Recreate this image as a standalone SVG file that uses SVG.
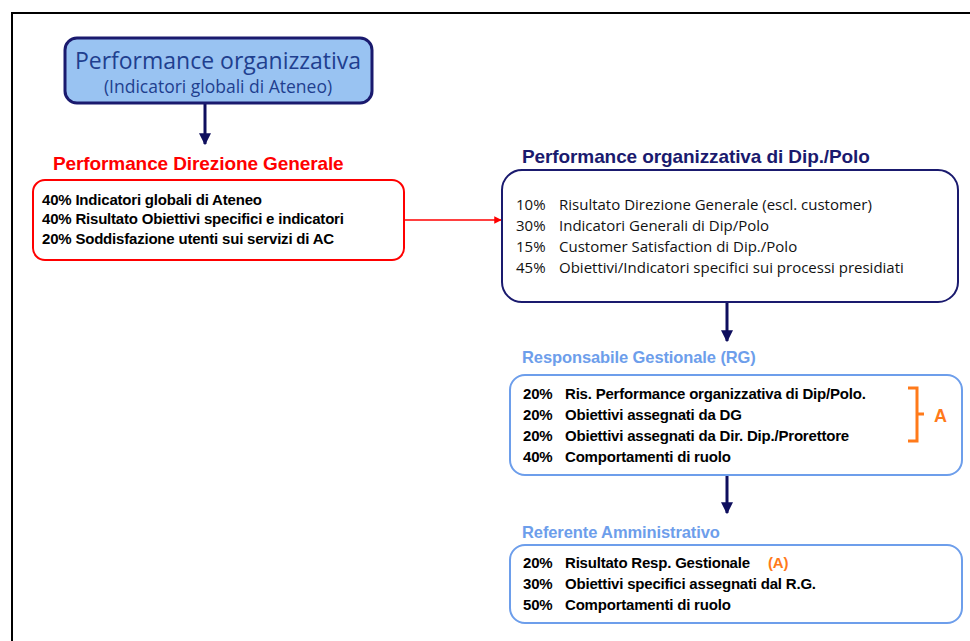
<svg xmlns="http://www.w3.org/2000/svg" width="970" height="641" viewBox="0 0 970 641">
<style>
.b{font-family:"Liberation Sans",Arial,sans-serif;font-weight:bold;font-size:15px;fill:#000;letter-spacing:-0.2px}
.r{font-family:"Open Sans","Liberation Sans",sans-serif;font-size:15px;fill:#111}
.h{font-family:"Liberation Sans",Arial,sans-serif;font-weight:bold;font-size:19px;letter-spacing:-0.1px}
.hl{font-family:"Liberation Sans",Arial,sans-serif;font-weight:bold;font-size:16.5px;fill:#6d9eeb;letter-spacing:-0.1px}
.o{fill:#ff7a1a}
</style>
<defs>
<marker id="an" viewBox="0 0 10 10" refX="9" refY="5" markerWidth="4" markerHeight="4" orient="auto"><path d="M0,0L10,5L0,10z" fill="#0f0f5e"/></marker>
<marker id="ar" viewBox="0 0 10 10" refX="9" refY="5" markerWidth="5" markerHeight="5" orient="auto"><path d="M0,0L10,5L0,10z" fill="#ff0000"/></marker>
</defs>
<rect width="970" height="641" fill="#fff"/>
<path d="M12,641V13H970" fill="none" stroke="#000" stroke-width="2"/>

<g id="connectors" fill="none">
<line x1="205" y1="104" x2="205" y2="144" stroke="#0f0f5e" stroke-width="3" marker-end="url(#an)"/>
<line x1="405" y1="220" x2="501" y2="220" stroke="#ff0000" stroke-width="1.5" marker-end="url(#ar)"/>
<line x1="727" y1="303" x2="727" y2="341" stroke="#0f0f5e" stroke-width="3" marker-end="url(#an)"/>
<line x1="727" y1="476" x2="727" y2="513" stroke="#0f0f5e" stroke-width="3" marker-end="url(#an)"/>
</g>

<g id="perf-org">
<rect x="65" y="38" width="307" height="65" rx="12" fill="#99c3f2" stroke="#1a1a6e" stroke-width="3"/>
<text x="218" y="69" text-anchor="middle" font-family="Open Sans,Liberation Sans,sans-serif" font-size="23" fill="#1f3f8f">Performance organizzativa</text>
<text x="218" y="93" text-anchor="middle" font-family="Open Sans,Liberation Sans,sans-serif" font-size="17.5" fill="#1f3f8f">(Indicatori globali di Ateneo)</text>
</g>

<g id="perf-dg">
<text x="53" y="170" class="h" fill="#ff0000">Performance Direzione Generale</text>
<rect x="33" y="180" width="371" height="80" rx="12" fill="#fff" stroke="#ff0000" stroke-width="2"/>
<text x="42" y="205" class="b">40% Indicatori globali di Ateneo</text>
<text x="42" y="224" class="b">40% Risultato Obiettivi specifici e indicatori</text>
<text x="42" y="244" class="b">20% Soddisfazione utenti sui servizi di AC</text>
</g>

<g id="perf-dip">
<text x="522" y="163" class="h" fill="#1a1a6e">Performance organizzativa di Dip./Polo</text>
<rect x="502" y="170" width="456" height="132" rx="20" fill="#fff" stroke="#1a1a6e" stroke-width="2"/>
<text x="516" y="210" class="r">10%</text><text x="559" y="210" class="r">Risultato Direzione Generale (escl. customer)</text>
<text x="516" y="231" class="r">30%</text><text x="559" y="231" class="r">Indicatori Generali di Dip/Polo</text>
<text x="516" y="252" class="r">15%</text><text x="559" y="252" class="r">Customer Satisfaction di Dip./Polo</text>
<text x="516" y="273" class="r">45%</text><text x="559" y="273" class="r">Obiettivi/Indicatori specifici sui processi presidiati</text>
</g>

<g id="resp-gest">
<text x="522" y="363" class="hl">Responsabile Gestionale (RG)</text>
<rect x="510" y="375" width="452" height="100" rx="15" fill="#fff" stroke="#6d9eeb" stroke-width="2"/>
<text x="523" y="399" class="b">20%</text><text x="565" y="399" class="b">Ris. Performance organizzativa di Dip/Polo.</text>
<text x="523" y="420" class="b">20%</text><text x="565" y="420" class="b">Obiettivi assegnati da DG</text>
<text x="523" y="441" class="b">20%</text><text x="565" y="441" class="b">Obiettivi assegnati da Dir. Dip./Prorettore</text>
<text x="523" y="462" class="b">40%</text><text x="565" y="462" class="b">Comportamenti di ruolo</text>
<path d="M908,388H917V441H908M917,414H924" fill="none" stroke="#ff7a1a" stroke-width="3"/>
<text x="934" y="422" font-family="Liberation Sans,Arial,sans-serif" font-weight="bold" font-size="18" class="o">A</text>
</g>

<g id="ref-amm">
<text x="522" y="538" class="hl">Referente Amministrativo</text>
<rect x="510" y="545" width="452" height="78" rx="15" fill="#fff" stroke="#6d9eeb" stroke-width="2"/>
<text x="523" y="568" class="b">20%</text><text x="565" y="568" class="b">Risultato Resp. Gestionale</text>
<text x="768" y="568" class="b o">(A)</text>
<text x="523" y="589" class="b">30%</text><text x="565" y="589" class="b">Obiettivi specifici assegnati dal R.G.</text>
<text x="523" y="610" class="b">50%</text><text x="565" y="610" class="b">Comportamenti di ruolo</text>
</g>
</svg>
